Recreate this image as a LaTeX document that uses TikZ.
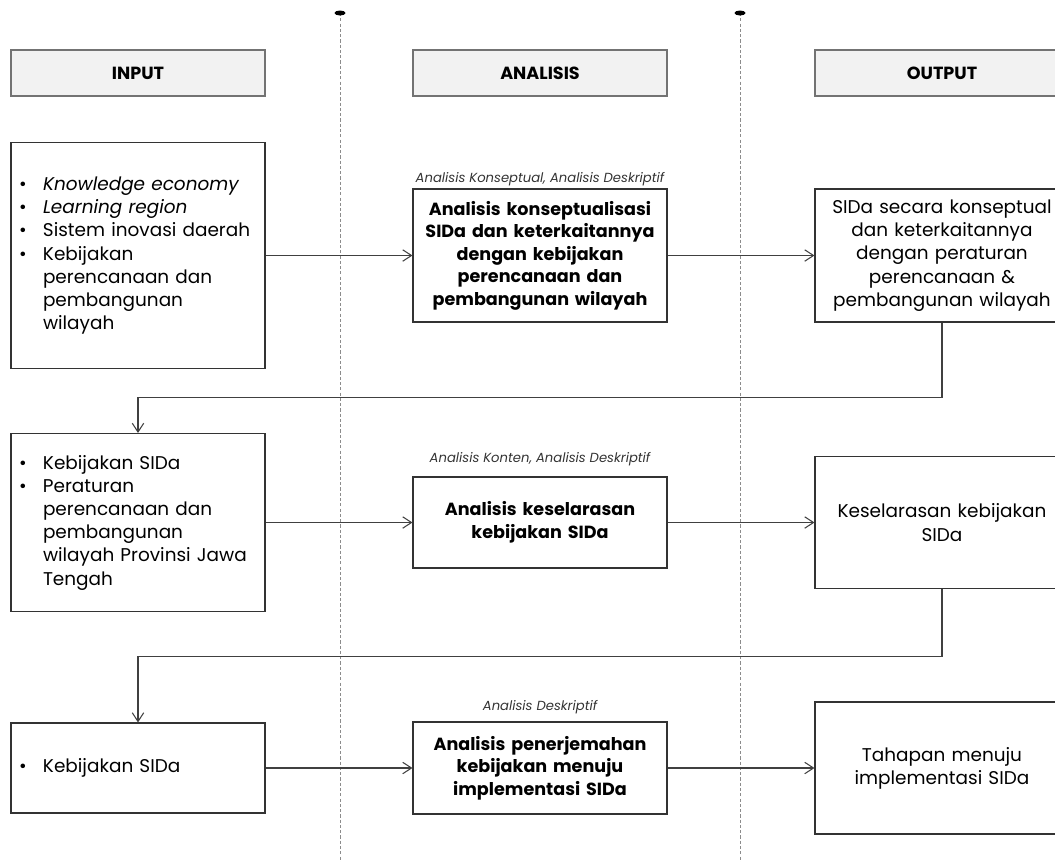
\documentclass[tikz,border=0pt]{standalone}
\usepackage{fontspec}
\setmainfont{Poppins}
\usetikzlibrary{arrows.meta,positioning}

\newcommand{\bodyfont}{\fontsize{10.5}{13.2}\selectfont}
\newcommand{\boldfont}{\fontsize{10}{12.8}\selectfont\bfseries}

\begin{document}
\begin{tikzpicture}[->,>={Straight Barb[length=5pt,width=6.5pt]},semithick,
                    auto,node distance=8.04cm]

  \tikzstyle{head}=[rectangle,draw=black!55,fill=black!5,line width=0.8pt,
                    minimum width=5.08cm,minimum height=0.92cm,
                    font=\fontsize{10}{12}\selectfont\bfseries]
  \tikzstyle{inbox}=[rectangle,draw=black!80,text width=4.76cm,
                     inner xsep=0.16cm,align=left,font=\bodyfont]
  \tikzstyle{anbox}=[rectangle,draw=black!80,text width=5cm,
                     inner xsep=0.04cm,align=center,font=\boldfont]
  \tikzstyle{outbox}=[rectangle,draw=black!80,text width=5cm,
                      inner xsep=0.04cm,align=center,font=\bodyfont]
  \tikzstyle{note}=[font=\fontsize{7.5}{9}\selectfont\itshape,text=black!80]
  \tikzstyle{lane}=[-,dashed,dash pattern=on 1.8pt off 1.2pt,
                    draw=black!45,line width=0.4pt]

  \useasboundingbox (0,0) rectangle (21.1,-17.22);

  % lanes
  \coordinate (top1) at (6.8,-0.26);
  \coordinate (bot1) at (6.8,-17.3);
  \coordinate (top2) at (14.8,-0.26);
  \coordinate (bot2) at (14.8,-17.3);
  \draw[lane] (top1) -- (bot1);
  \draw[lane] (top2) -- (bot2);
  \fill[-] (top1) ellipse (0.11 and 0.05);
  \fill[-] (top2) ellipse (0.11 and 0.05);

  % headers
  \node[head] (hIn) at (2.76,-1.46) {INPUT};
  \node[head] (hAn)  [right of=hIn] {ANALISIS};
  \node[head] (hOut) [right of=hAn] {OUTPUT};

  % row 1
  \node[inbox,minimum height=4.52cm] (I1) [below of=hIn,node distance=3.65cm]
    {\begin{tabular}{@{}p{0.48cm}@{}l@{}}
       \textbullet & \textit{Knowledge economy} \\
       \textbullet & \textit{Learning region} \\
       \textbullet & Sistem inovasi daerah \\
       \textbullet & Kebijakan \\
                   & perencanaan dan \\
                   & pembangunan \\
                   & wilayah
     \end{tabular}};
  \node[anbox,minimum height=2.66cm] (A1) [right of=I1]
    {Analisis konseptualisasi \\ SIDa dan keterkaitannya \\ dengan kebijakan \\
     perencanaan dan \\ pembangunan wilayah};
  \node[outbox,minimum height=2.66cm] (O1) [right of=A1]
    {SIDa secara konseptual \\ dan keterkaitannya \\ dengan peraturan \\
     perencanaan \& \\ pembangunan wilayah};
  \node[note] (N1) [above=-0.08cm of A1] {Analisis Konseptual, Analisis Deskriptif};

  % row 2
  \node[inbox,minimum height=3.56cm] (I2) [below of=I1,node distance=5.34cm]
    {\begin{tabular}{@{}p{0.48cm}@{}l@{}}
       \textbullet & Kebijakan SIDa \\
       \textbullet & Peraturan \\
                   & perencanaan dan \\
                   & pembangunan \\
                   & wilayah Provinsi Jawa \\
                   & Tengah
     \end{tabular}};
  \node[anbox,minimum height=1.82cm] (A2) [right of=I2]
    {Analisis keselarasan \\ kebijakan SIDa};
  \node[outbox,minimum height=2.64cm] (O2) [right of=A2]
    {Keselarasan kebijakan \\ SIDa};
  \node[note] (N2) [above=0.08cm of A2] {Analisis Konten, Analisis Deskriptif};

  % row 3
  \node[inbox,minimum height=1.8cm] (I3) [below of=I2,node distance=4.91cm]
    {\begin{tabular}{@{}p{0.48cm}@{}l@{}}
       \textbullet & Kebijakan SIDa
     \end{tabular}};
  \node[anbox,minimum height=1.84cm] (A3) [right of=I3]
    {Analisis penerjemahan \\ kebijakan menuju \\ implementasi SIDa};
  \node[outbox,minimum height=2.64cm] (O3) [right of=A3]
    {Tahapan menuju \\ implementasi SIDa};
  \node[note] (N3) [above=0.02cm of A3] {Analisis Deskriptif};

  \path[draw=black!75]
  (I1) edge (A1)
  (A1) edge (O1)
  (I2) edge (A2)
  (A2) edge (O2)
  (I3) edge (A3)
  (A3) edge (O3);

  \draw[draw=black!75] (O1.south) -- ++(0,-1.5) -| (I2.north);
  \draw[draw=black!75] (O2.south) -- ++(0,-1.34) -| (I3.north);
\end{tikzpicture}
\end{document}
